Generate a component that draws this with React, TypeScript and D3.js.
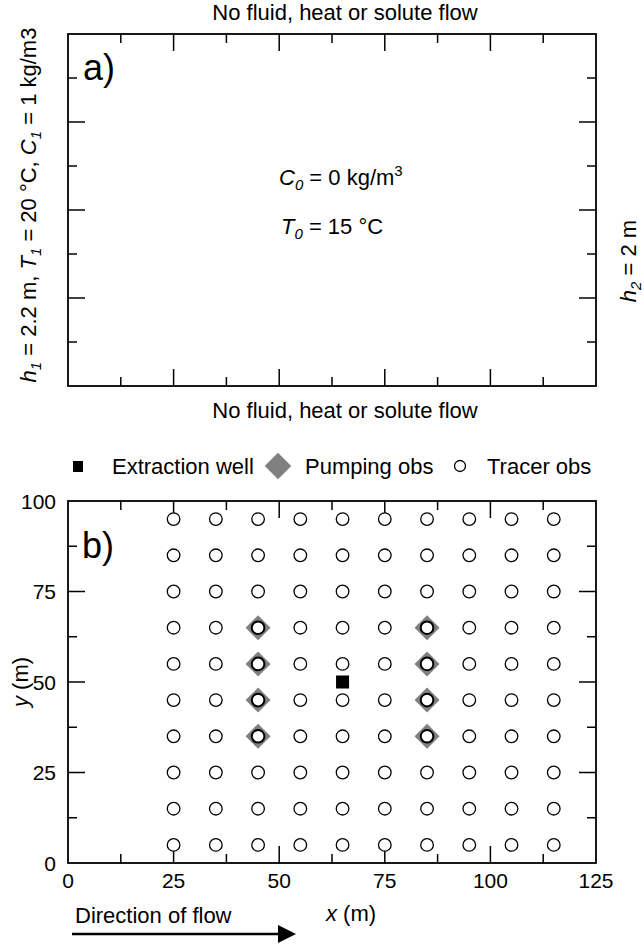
import React, { useRef, useEffect } from "react";
import * as d3 from "d3";

// observation grid (m)
const tracerX = [25, 35, 45, 55, 65, 75, 85, 95, 105, 115];
const tracerY = [5, 15, 25, 35, 45, 55, 65, 75, 85, 95];
const pumpingX = [45, 85];
const pumpingY = [35, 45, 55, 65];
const wellX = [65];
const wellY = [50];

const xTicks = [0, 12.5, 25, 37.5, 50, 62.5, 75, 87.5, 100, 112.5, 125];
const yTicks = [0, 12.5, 25, 37.5, 50, 62.5, 75, 87.5, 100];
const xLabels = [0, 25, 50, 75, 100, 125];
const yLabels = [0, 25, 50, 75, 100];
const legendNames = ["Extraction well", "Pumping obs", "Tracer obs"];

const FONT = "'Liberation Sans', Arial, Helvetica, sans-serif";
const MAJ = 17;
const MIN = 9;

const drawFrame = (g, x, y) => {
	const [x0, x1] = x.range();
	const [y0, y1] = y.range();
	xTicks.forEach(t => {
		if (t === 0 || t === 125) return;
		const len = t % 25 === 0 ? MAJ : MIN;
		g.append("line").attr("x1", x(t)).attr("x2", x(t)).attr("y1", y0).attr("y2", y0 - len);
		g.append("line").attr("x1", x(t)).attr("x2", x(t)).attr("y1", y1).attr("y2", y1 + len);
	});
	yTicks.forEach(t => {
		if (t === 0 || t === 100) return;
		const len = t % 25 === 0 ? MAJ : MIN;
		g.append("line").attr("x1", x0).attr("x2", x0 + len).attr("y1", y(t)).attr("y2", y(t));
		g.append("line").attr("x1", x1).attr("x2", x1 - len).attr("y1", y(t)).attr("y2", y(t));
	});
	g.selectAll("line").attr("stroke", "#000").attr("stroke-width", 1.5);
	g.append("rect")
		.attr("x", x0).attr("y", y1)
		.attr("width", x1 - x0).attr("height", y0 - y1)
		.attr("fill", "none").attr("stroke", "#000").attr("stroke-width", 1.8);
};

const App = () => {
	const ref = useRef(null);

	useEffect(() => {
		const svg = d3.select(ref.current);
		svg.selectChildren().remove();
		svg.attr("font-family", FONT).attr("fill", "#000");

		// ---------- panel a ----------
		const xa = d3.scaleLinear().domain([0, 125]).range([68, 596]);
		const ya = d3.scaleLinear().domain([0, 100]).range([386, 34]);
		const ga = svg.append("g");
		drawFrame(ga.append("g"), xa, ya);

		svg.append("text").attr("x", 345).attr("y", 20).attr("text-anchor", "middle")
			.attr("font-size", 22).text("No fluid, heat or solute flow");
		svg.append("text").attr("x", 345).attr("y", 418).attr("text-anchor", "middle")
			.attr("font-size", 22).text("No fluid, heat or solute flow");
		svg.append("text").attr("x", 83).attr("y", 80).attr("font-size", 36).text("a)");

		const c0 = svg.append("text").attr("x", 279).attr("y", 185).attr("font-size", 22);
		c0.append("tspan").attr("font-style", "italic").text("C");
		c0.append("tspan").attr("font-style", "italic").attr("font-size", 15).attr("dy", 5).text("0");
		c0.append("tspan").attr("dy", -5).text(" = 0 kg/m");
		c0.append("tspan").attr("font-size", 15).attr("dy", -9).text("3");

		const t0 = svg.append("text").attr("x", 281).attr("y", 234).attr("font-size", 22);
		t0.append("tspan").attr("font-style", "italic").text("T");
		t0.append("tspan").attr("font-style", "italic").attr("font-size", 15).attr("dy", 5).text("0");
		t0.append("tspan").attr("dy", -5).text(" = 15 °C");

		const lab1 = svg.append("text").attr("transform", "translate(36,205) rotate(-90)")
			.attr("text-anchor", "middle").attr("font-size", 22);
		const sub = (el, name, s, rest) => {
			el.append("tspan").attr("font-style", "italic").text(name);
			el.append("tspan").attr("font-style", "italic").attr("font-size", 15).attr("dy", 5).text(s);
			el.append("tspan").attr("dy", -5).text(rest);
		};
		sub(lab1, "h", "1", " = 2.2 m, ");
		sub(lab1, "T", "1", " = 20 °C, ");
		sub(lab1, "C", "1", " = 1 kg/m3");

		const lab2 = svg.append("text").attr("transform", "translate(636,261) rotate(-90)")
			.attr("text-anchor", "middle").attr("font-size", 22);
		sub(lab2, "h", "2", " = 2 m");

		// ---------- legend ----------
		const lg = svg.append("g");
		lg.append("rect").attr("x", 73).attr("y", 461).attr("width", 10).attr("height", 11).attr("fill", "#000");
		lg.append("text").attr("x", 112).attr("y", 474).attr("font-size", 22).text(legendNames[0]);
		lg.append("path").attr("d", d3.symbol(d3.symbolDiamond2, 450)()).attr("transform", "translate(278,466)").attr("fill", "#808080");
		lg.append("text").attr("x", 305).attr("y", 474).attr("font-size", 22).text(legendNames[1]);
		lg.append("circle").attr("cx", 460).attr("cy", 466).attr("r", 5.5).attr("fill", "#fff").attr("stroke", "#000").attr("stroke-width", 1.3);
		lg.append("text").attr("x", 487).attr("y", 474).attr("font-size", 22).text(legendNames[2]);

		// ---------- panel b ----------
		const xb = d3.scaleLinear().domain([0, 125]).range([68, 596]);
		const yb = d3.scaleLinear().domain([0, 100]).range([863, 501]);
		const gb = svg.append("g");
		drawFrame(gb.append("g"), xb, yb);

		xLabels.forEach(v => {
			svg.append("text").attr("x", xb(v)).attr("y", 888).attr("text-anchor", "middle")
				.attr("font-size", 21).text(v);
		});
		yLabels.forEach(v => {
			svg.append("text").attr("x", 56).attr("y", yb(v) + 7.5).attr("text-anchor", "end")
				.attr("font-size", 21).text(v);
		});
		svg.append("text").attr("x", 82).attr("y", 558).attr("font-size", 36).text("b)");

		const xl = svg.append("text").attr("x", 351).attr("y", 921).attr("text-anchor", "middle").attr("font-size", 22);
		xl.append("tspan").attr("font-style", "italic").text("x");
		xl.append("tspan").text(" (m)");
		const yl = svg.append("text").attr("transform", `translate(28,${yb(50)}) rotate(-90)`)
			.attr("text-anchor", "middle").attr("font-size", 22);
		yl.append("tspan").attr("font-style", "italic").text("y");
		yl.append("tspan").text(" (m)");

		// pumping observation diamonds
		const diamond = d3.symbol(d3.symbolDiamond2, 400)();
		pumpingX.forEach(px => pumpingY.forEach(py => {
			gb.append("path").attr("d", diamond)
				.attr("transform", `translate(${xb(px)},${yb(py)})`).attr("fill", "#808080");
		}));

		// tracer observation circles
		tracerX.forEach(tx => tracerY.forEach(ty => {
			const onPump = pumpingX.includes(tx) && pumpingY.includes(ty);
			gb.append("circle").attr("cx", xb(tx)).attr("cy", yb(ty)).attr("r", 6.3)
				.attr("fill", "#fff").attr("stroke", "#000").attr("stroke-width", onPump ? 2 : 1.3);
		}));

		// extraction well
		wellX.forEach((wx, i) => {
			gb.append("rect").attr("x", xb(wx) - 6.5).attr("y", yb(wellY[i]) - 6.5)
				.attr("width", 13).attr("height", 13).attr("fill", "#000");
		});

		// direction of flow
		svg.append("text").attr("x", 75).attr("y", 923).attr("font-size", 22).text("Direction of flow");
		svg.append("line").attr("x1", 72).attr("x2", 282).attr("y1", 934).attr("y2", 934)
			.attr("stroke", "#000").attr("stroke-width", 2.5);
		svg.append("path").attr("d", "M278,925L296,934L278,943Z").attr("fill", "#000");
	});

	return (
		<svg ref={ref} width={644} height={946} style={{ position: "absolute", left: 0, top: 0, background: "#fff" }}>
		</svg>
	);
};

export default App;
